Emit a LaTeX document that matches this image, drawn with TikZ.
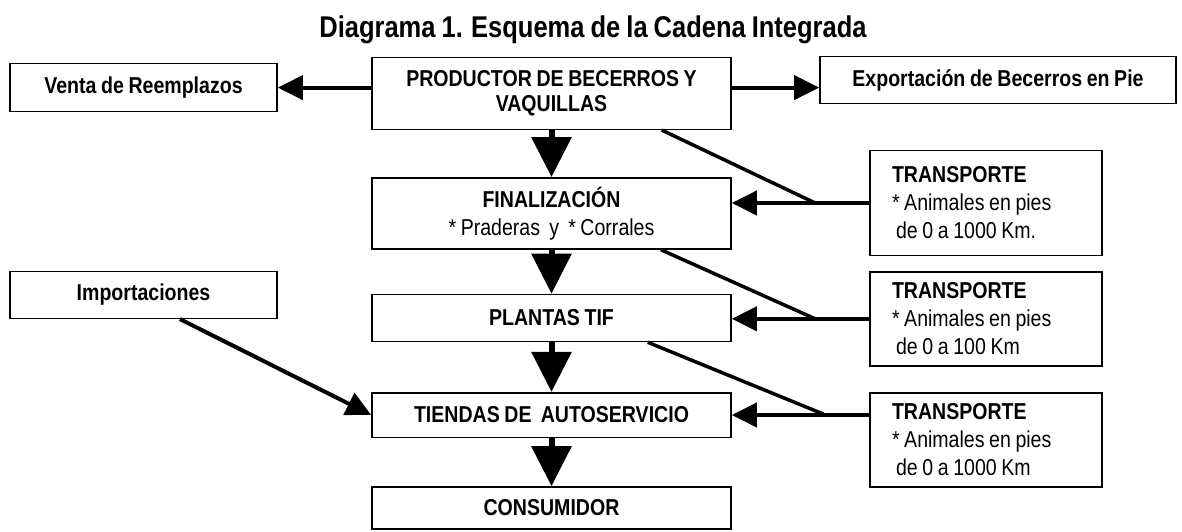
\documentclass[tikz,border=0pt]{standalone}
\usepackage{fontspec}
\setmainfont{Liberation Sans}[FakeStretch=0.85, WordSpace=0.85]
\usetikzlibrary{arrows.meta, positioning}
\newcommand\narrowspace{\spaceskip=4.6pt\relax}

\begin{document}
\begin{tikzpicture}[x=1pt, y=-1pt, on grid,
    box/.style={draw, line width=1.6pt, inner sep=0pt, align=center,
        minimum width=359pt, font=\fontsize{23}{25}\selectfont\bfseries},
    trans/.style={draw, line width=1.6pt, inner xsep=22pt, inner ysep=0pt,
        text width=188pt, align=left, minimum width=232pt,
        font=\fontsize{23}{28}\selectfont, execute at begin node=\narrowspace},
    flow/.style={line width=6pt, -{Triangle[length=40pt, width=39pt]}},
    side/.style={line width=4pt, -{Triangle[length=25pt, width=24pt]}},
    tick/.style={line width=3.5pt}]
    \useasboundingbox (0,0) rectangle (1182,531);

    \node[font=\fontsize{30}{32}\selectfont\bfseries] (title) at (593,30)
        {Diagrama 1. Esquema de la Cadena Integrada};

    % cadena central
    \node[box, minimum height=72pt] (prod) at (551.5,93.3)
        {PRODUCTOR DE BECERROS Y\\VAQUILLAS};
    \node[box, minimum height=71pt, font=\fontsize{23}{28}\selectfont\bfseries] (fin) [below=120.1pt of prod]
        {FINALIZACIÓN\\\mdseries\narrowspace * Praderas\ \ y\ \ * Corrales};
    \node[box, minimum height=47pt] (tif) [below=104.6pt of fin]
        {PLANTAS TIF};
    \node[box, minimum height=44.6pt] (tienda) [below=97pt of tif]
        {TIENDAS DE\ \ AUTOSERVICIO};
    \node[box, minimum height=42pt] (consu) [below=93pt of tienda]
        {CONSUMIDOR};

    % salidas y entradas
    \node[box, minimum width=267pt, minimum height=48pt] (venta) at (143.5,87.6)
        {Venta de Reemplazos};
    \node[box, minimum width=356pt, minimum height=47pt] (expo) at (998,80)
        {Exportación de Becerros en Pie};
    \node[box, minimum width=267pt, minimum height=47pt] (impo) at (143.5,294.8)
        {Importaciones};

    % transporte
    \node[trans, minimum height=105pt] (t1) at (986,203)
        {\textbf{TRANSPORTE}\\{*} Animales en pies\\\hspace*{4pt}de 0 a 1000 Km.};
    \node[trans, minimum height=94pt] (t2) at (986,318.8)
        {\textbf{TRANSPORTE}\\{*} Animales en pies\\\hspace*{4pt}de 0 a 100 Km};
    \node[trans, minimum height=94pt] (t3) at (986,439.7)
        {\textbf{TRANSPORTE}\\{*} Animales en pies\\\hspace*{4pt}de 0 a 1000 Km};

    \path[flow]
    (prod) edge (fin)
    (fin) edge (tif)
    (tif) edge (tienda)
    (tienda) edge (consu);

    \draw[side] (prod.west |- venta.east) -- (venta.east);
    \draw[side] (prod.east |- venta.east) -- (expo.west |- venta.east);
    \draw[side] ([xshift=36.5pt]impo.south) -- (tienda.west);
    \draw[side] (t1.west) -- (t1.west -| fin.east);
    \draw[side] (t2.west) -- (t2.west -| tif.east);
    \draw[side] (t3.west |- tienda) -- (tienda.east);

    \draw[tick] ([xshift=-70pt]prod.south east) -- ([xshift=-54pt]t1.west);
    \draw[tick] ([xshift=-71pt]fin.south east) -- ([xshift=-54pt]t2.west);
    \draw[tick] ([xshift=-84pt]tif.south east) -- ([xshift=-46pt, yshift=25.7pt]t3.west);
\end{tikzpicture}
\end{document}
